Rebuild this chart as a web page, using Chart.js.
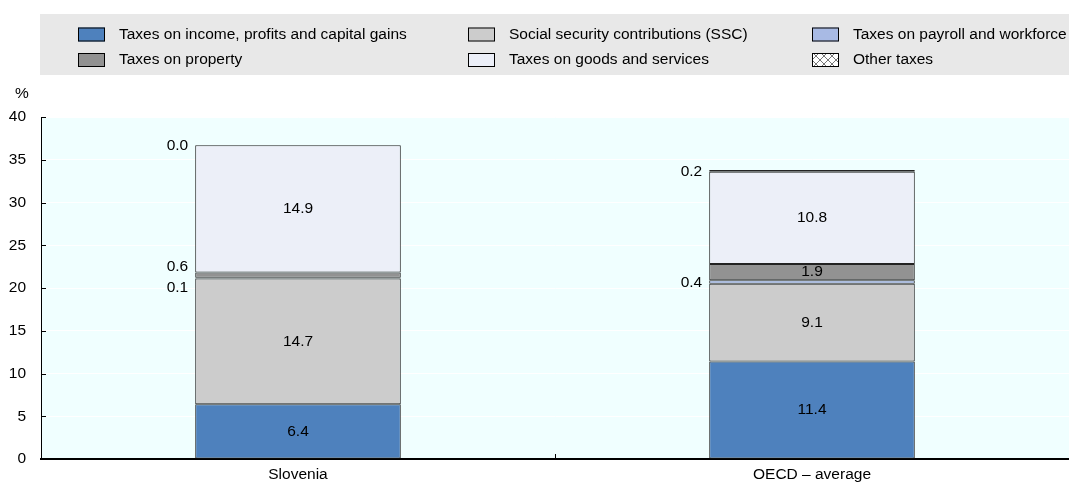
<!DOCTYPE html>
<html>
<head>
<meta charset="utf-8">
<script src="https://cdn.jsdelivr.net/npm/chart.js@4/dist/chart.umd.min.js"></script>
<style>
  html, body { margin: 0; padding: 0; background: #fff; }
  #chart { display: block; }
</style>
</head>
<body>
<canvas id="chart" width="1069" height="484"></canvas>
<script>
// Chart data
const categories = ['Slovenia', 'OECD – average'];
const seriesNames = [
    'Taxes on income, profits and capital gains',
    'Social security contributions (SSC)',
    'Taxes on payroll and workforce',
    'Taxes on property',
    'Taxes on goods and services',
    'Other taxes'
];
const incomeTaxes = [6.4, 11.4];
const socialSecurity = [14.7, 9.1];
const payrollTaxes = [0.1, 0.4];
const propertyTaxes = [0.6, 1.9];
const goodsServices = [14.9, 10.8];
const otherTaxes = [0.0, 0.2];
const yMin = 0, yMax = 40, yStep = 5;

const FONT = "'Liberation Sans', Arial, sans-serif";
const FSIZE = 15.5;

// cross hatch for "Other taxes"
function makeHatch() {
    const c = document.createElement('canvas');
    c.width = 8; c.height = 8;
    const g = c.getContext('2d');
    g.fillStyle = '#fff';
    g.fillRect(0, 0, 8, 8);
    g.strokeStyle = '#777';
    g.lineWidth = 1;
    g.beginPath();
    g.moveTo(0, 0); g.lineTo(8, 8);
    g.moveTo(8, 0); g.lineTo(0, 8);
    g.stroke();
    return g.createPattern(c, 'repeat');
}
const hatch = makeHatch();

const colors = ['#4E81BD', '#CCCCCC', '#A8BAE4', '#929292', '#ECEFF8', hatch];
const values = [incomeTaxes, socialSecurity, payrollTaxes, propertyTaxes, goodsServices, otherTaxes];

const datasets = seriesNames.map((name, i) => ({
    label: name,
    data: values[i],
    backgroundColor: colors[i],
    borderColor: '#222',
    borderWidth: 1,
    borderSkipped: false,
    categoryPercentage: 1,
    barPercentage: 0.4
}));

// plot background + inner tick marks + "%" title
const backdrop = {
    id: 'backdrop',
    beforeDraw(chart) {
        const { ctx, chartArea: a } = chart;
        ctx.save();
        ctx.fillStyle = '#F0FFFF';
        ctx.fillRect(a.left, a.top, a.right - a.left, a.bottom - a.top);
        ctx.restore();
    },
    afterDraw(chart) {
        const { ctx, chartArea: a, scales } = chart;
        ctx.save();
        ctx.strokeStyle = '#000';
        ctx.lineWidth = 1;
        scales.y.ticks.forEach(t => {
            const y = Math.round(scales.y.getPixelForValue(t.value)) + 0.5;
            ctx.beginPath();
            ctx.moveTo(a.left, y);
            ctx.lineTo(a.left + 5, y);
            ctx.stroke();
        });
        // tick between the two categories
        const mid = Math.round((a.left + a.right) / 2) + 0.5;
        ctx.beginPath();
        ctx.moveTo(mid, a.bottom);
        ctx.lineTo(mid, a.bottom - 5);
        ctx.stroke();
        ctx.fillStyle = '#000';
        ctx.font = FSIZE + 'px ' + FONT;
        ctx.textAlign = 'center';
        ctx.textBaseline = 'middle';
        ctx.fillText('%', 22, 94);
        ctx.restore();
    }
};

// legend drawn in three columns
const gridLegend = {
    id: 'gridLegend',
    afterDraw(chart) {
        const ctx = chart.ctx;
        ctx.save();
        ctx.fillStyle = '#E8E8E8';
        ctx.fillRect(40, 14, 1029, 61);
        const colX = [78, 468, 812];
        const rowY = [34.5, 60];
        ctx.font = FSIZE + 'px ' + FONT;
        ctx.textBaseline = 'middle';
        ctx.textAlign = 'left';
        seriesNames.forEach((name, i) => {
            const x = colX[i % 3], y = rowY[Math.floor(i / 3)];
            ctx.fillStyle = colors[i];
            ctx.fillRect(x, y - 7, 27, 14);
            ctx.strokeStyle = '#000';
            ctx.lineWidth = 1;
            ctx.strokeRect(x + 0.5, y - 6.5, 26, 13);
            ctx.fillStyle = '#000';
            ctx.fillText(name, x + 41, y);
        });
        ctx.restore();
    }
};

// value labels: inside for big segments, to the left for small ones
const valueLabels = {
    id: 'valueLabels',
    afterDatasetsDraw(chart) {
        const ctx = chart.ctx;
        ctx.save();
        ctx.font = FSIZE + 'px ' + FONT;
        ctx.fillStyle = '#000';
        ctx.textBaseline = 'middle';
        categories.forEach((c, i) => {
            const small = [];
            chart.data.datasets.forEach((ds, d) => {
                const el = chart.getDatasetMeta(d).data[i];
                const v = ds.data[i];
                const cy = (el.y + el.base) / 2;
                if (v >= 1) {
                    ctx.textAlign = 'center';
                    ctx.fillText(v.toFixed(1), el.x, cy);
                } else {
                    small.push({ y: cy, x: el.x - el.width / 2 - 7, text: v.toFixed(1) });
                }
            });
            small.sort((a, b) => a.y - b.y);
            for (let k = 1; k < small.length; k++) {
                const gap = small[k].y - small[k - 1].y;
                if (gap < 21) {
                    const push = (21 - gap) / 2;
                    small[k - 1].y -= push;
                    small[k].y += push;
                }
            }
            ctx.textAlign = 'right';
            small.forEach(s => ctx.fillText(s.text, s.x, s.y + 1));
        });
        ctx.restore();
    }
};

new Chart(document.getElementById('chart').getContext('2d'), {
    type: 'bar',
    data: { labels: categories, datasets: datasets },
    options: {
        responsive: false,
        animation: false,
        layout: { padding: { top: 117, left: 0, right: 0, bottom: 0 } },
        plugins: { legend: { display: false }, tooltip: { enabled: false } },
        scales: {
            x: {
                stacked: true,
                afterFit(scale) { scale.height = 25; },
                grid: { display: false },
                border: { color: '#000', width: 2 },
                ticks: { color: '#000', font: { family: FONT, size: FSIZE }, padding: -2 }
            },
            y: {
                stacked: true,
                min: yMin,
                max: yMax,
                afterFit(scale) { scale.width = 41; },
                grid: { color: '#fff', lineWidth: 1, drawTicks: false },
                border: { color: '#000', width: 1 },
                ticks: { stepSize: yStep, color: '#000', font: { family: FONT, size: FSIZE }, padding: 15 }
            }
        }
    },
    plugins: [backdrop, gridLegend, valueLabels]
});
</script>
</body>
</html>
